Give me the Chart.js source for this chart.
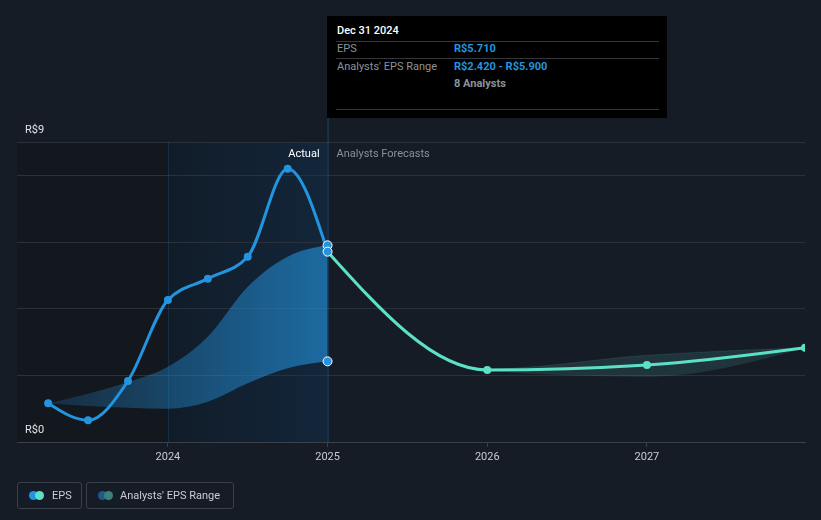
<!DOCTYPE html>
<html>
<head>
<meta charset="utf-8">
<script src="https://cdn.jsdelivr.net/npm/chart.js@4.4.1/dist/chart.umd.min.js"></script>
<style>
  html, body { margin:0; padding:0; background:#161c26; }
  body { width:821px; height:520px; position:relative; overflow:hidden; font-family: Roboto, "Noto Sans", sans-serif; }
  canvas { position:absolute; left:0; top:0; }
  .tip { position:absolute; left:327px; top:16px; width:340px; height:102px; background:#000; font-size:11px; }
  .tip .title { position:absolute; left:10px; top:8px; color:#fff; font-weight:500; }
  .tip .sep { position:absolute; left:9px; right:8px; height:1px; background:#33373d; }
  .tip .lab { position:absolute; left:10px; color:#8d9299; }
  .tip .val { position:absolute; left:127px; color:#2394df; font-weight:700; }
  .tip .an { position:absolute; left:127px; color:#8d9299; font-weight:700; }
  .legend { position:absolute; top:482px; height:27px; border:1px solid #3a3f48; border-radius:3px; box-sizing:border-box; color:#c9ccd1; font-size:11px; line-height:25px; }
  .dot { position:absolute; top:8px; width:9px; height:9px; border-radius:50%; }
</style>
</head>
<body>
<canvas id="c" width="821" height="520"></canvas>
<div class="tip">
  <div class="title">Dec 31 2024</div>
  <div class="sep" style="top:25px"></div>
  <div class="lab" style="top:26px">EPS</div>
  <div class="val" style="top:26px">R$5.710</div>
  <div class="sep" style="top:42px"></div>
  <div class="lab" style="top:44px">Analysts' EPS Range</div>
  <div class="val" style="top:44px">R$2.420 - R$5.900</div>
  <div class="an" style="top:61px">8 Analysts</div>
  <div class="sep" style="top:93px"></div>
</div>
<div class="legend" style="left:17px;width:65px;">
  <span class="dot" style="left:11px;background:#2394df"></span>
  <span class="dot" style="left:17px;background:#5de0c8"></span>
  <span style="position:absolute;left:34px;">EPS</span>
</div>
<div class="legend" style="left:86px;width:148px;">
  <span class="dot" style="left:11px;background:#1d5a8a"></span>
  <span class="dot" style="left:17px;background:#3b807c"></span>
  <span style="position:absolute;left:33px;">Analysts' EPS Range</span>
</div>
<script>
// ---- data (x = year as decimal) ----
const actualX   = [2023.25, 2023.5, 2023.75, 2024.0, 2024.25, 2024.5, 2024.75, 2025.0];
const actualEPS = [1.16, 0.65, 1.83, 4.26, 4.90, 5.56, 8.20, 5.71];

const pastRangeX     = [2023.25, 2023.5, 2023.75, 2024.0, 2024.25, 2024.5, 2024.75, 2025.0];
const pastRangeHigh  = [1.16, 1.45, 1.8, 2.26, 3.16, 4.66, 5.56, 5.90];
const pastRangeLow   = [1.16, 1.08, 1.03, 1.00, 1.21, 1.76, 2.21, 2.42];

const forecastX    = [2025.0, 2026.0, 2027.0, 2027.99];
const forecastEPS  = [5.71, 2.16, 2.31, 2.83];
const forecastHigh = [5.71, 2.19, 2.60, 2.83];
const forecastLow  = [5.71, 2.13, 1.96, 2.83];

const yTicks = [0, 2, 4, 6, 8, 9];
const yLabels = {0: 'R$0', 9: 'R$9'};
const xTicks = [2024, 2025, 2026, 2027];

const pts = (xs, ys) => xs.map((x, i) => ({x, y: ys[i]}));

const BLUE = '#2394df', TEAL = '#5de0c8';

// d3-style monotoneX control points applied to the library's own point elements
function sgn(v) { return v < 0 ? -1 : 1; }
function slope3(p0, p1, p2) {
  const h0 = p1.x - p0.x, h1 = p2.x - p1.x;
  const s0 = (p1.y - p0.y) / h0, s1 = (p2.y - p1.y) / h1;
  const p = (s0 * h1 + s1 * h0) / (h0 + h1);
  return (sgn(s0) + sgn(s1)) * Math.min(Math.abs(s0), Math.abs(s1), 0.5 * Math.abs(p)) || 0;
}
function slope2(p0, p1, t) {
  const h = p1.x - p0.x;
  return h ? (3 * (p1.y - p0.y) / h - t) / 2 : t;
}
const monoPlugin = {
  id: 'mono',
  afterDatasetsUpdate(chart) {
    chart.getSortedVisibleDatasetMetas().forEach(meta => {
      const line = meta.dataset;
      if (!line || meta._dataset.showLine === false) return;
      const P = meta.data;
      const n = P.length;
      if (n < 3) return;
      const m = new Array(n);
      for (let i = 1; i < n - 1; i++) m[i] = slope3(P[i - 1], P[i], P[i + 1]);
      m[0] = slope2(P[0], P[1], m[1]);
      m[n - 1] = slope2(P[n - 2], P[n - 1], m[n - 2]);
      for (let i = 0; i < n; i++) {
        const pt = P[i];
        if (i > 0) { const d = (pt.x - P[i - 1].x) / 3; pt.cp1x = pt.x - d; pt.cp1y = pt.y - d * m[i]; }
        else { pt.cp1x = pt.x; pt.cp1y = pt.y; }
        if (i < n - 1) { const d = (P[i + 1].x - pt.x) / 3; pt.cp2x = pt.x + d; pt.cp2y = pt.y + d * m[i]; }
        else { pt.cp2x = pt.x; pt.cp2y = pt.y; }
      }
      line._pointsUpdated = true;
    });
  }
};

const bgPlugin = {
  id: 'bg',
  beforeDraw(chart) {
    const {ctx, chartArea: a, scales: {x}} = chart;
    const x24 = x.getPixelForValue(2024), x25 = x.getPixelForValue(2025);
    ctx.save();
    ctx.fillStyle = '#13171e';
    ctx.fillRect(a.left, a.top, x24 - a.left, a.bottom - a.top);
    const g = ctx.createLinearGradient(x24, 0, x25, 0);
    g.addColorStop(0, '#111c29');
    g.addColorStop(1, '#13263a');
    ctx.fillStyle = g;
    ctx.fillRect(x24, a.top, x25 - x24, a.bottom - a.top);
    ctx.restore();
  },
  beforeDatasetsDraw(chart) {
    const {ctx, chartArea: a, scales: {x}} = chart;
    const x24 = x.getPixelForValue(2024), x25 = x.getPixelForValue(2025);
    ctx.save();
    ctx.lineWidth = 1;
    ctx.strokeStyle = 'rgba(35,148,223,0.18)';
    ctx.beginPath(); ctx.moveTo(x24 + 0.5, a.top); ctx.lineTo(x24 + 0.5, a.bottom); ctx.stroke();
    ctx.strokeStyle = 'rgba(35,148,223,0.35)';
    ctx.beginPath(); ctx.moveTo(x25 + 0.5, 118); ctx.lineTo(x25 + 0.5, a.bottom); ctx.stroke();
    ctx.restore();
  },
  afterDatasetsDraw(chart) {
    const {ctx, scales: {x}} = chart;
    const x25 = x.getPixelForValue(2025);
    ctx.save();
    ctx.font = '11px Roboto, "Noto Sans", sans-serif';
    ctx.textBaseline = 'middle';
    ctx.textAlign = 'right';
    ctx.fillStyle = '#ffffff';
    ctx.fillText('Actual', x25 - 8, 154);
    ctx.textAlign = 'left';
    ctx.fillStyle = '#8a9099';
    ctx.fillText('Analysts Forecasts', x25 + 9, 154);
    ctx.restore();
  }
};

const pastGrad = (ctx) => {
  const c = ctx.chart;
  if (!c.chartArea) return 'rgba(35,148,223,0.3)';
  const x = c.scales.x;
  const g = c.ctx.createLinearGradient(x.getPixelForValue(2023.25), 0, x.getPixelForValue(2025), 0);
  g.addColorStop(0, 'rgba(35,148,223,0.18)');
  g.addColorStop(1, 'rgba(35,148,223,0.62)');
  return g;
};

new Chart(document.getElementById('c'), {
  type: 'line',
  data: {
    datasets: [
      { data: pts(pastRangeX, pastRangeHigh), borderWidth: 0, pointRadius: 0, fill: '+1',
        backgroundColor: pastGrad, cubicInterpolationMode: 'monotone', order: 5 },
      { data: pts(pastRangeX, pastRangeLow), borderWidth: 0, pointRadius: 0, fill: false,
        cubicInterpolationMode: 'monotone', order: 5 },
      { data: pts(forecastX, forecastHigh), borderWidth: 1, borderColor: 'rgba(93,224,200,0.12)', pointRadius: 0, fill: '+1',
        backgroundColor: 'rgba(93,224,200,0.13)', cubicInterpolationMode: 'monotone', order: 5 },
      { data: pts(forecastX, forecastLow), borderWidth: 0, pointRadius: 0, fill: false,
        cubicInterpolationMode: 'monotone', order: 5 },
      { data: pts(forecastX, forecastEPS), borderColor: TEAL, backgroundColor: TEAL, borderWidth: 3,
        pointRadius: [0, 4, 4, 4], pointBorderWidth: 0, fill: false, cubicInterpolationMode: 'monotone', order: 2 },
      { data: pts(actualX, actualEPS), borderColor: BLUE, backgroundColor: BLUE, borderWidth: 3,
        pointRadius: [4, 4, 4, 4, 4, 4, 4, 0], pointBorderWidth: 0, fill: false, cubicInterpolationMode: 'monotone', order: 1 },
      { data: [{x: 2025, y: pastRangeHigh[7]}, {x: 2025, y: actualEPS[7]}, {x: 2025, y: pastRangeLow[7]}],
        showLine: false, pointRadius: 4.5, pointBackgroundColor: BLUE, pointBorderColor: '#ffffff', pointBorderWidth: 1, order: 0 }
    ]
  },
  options: {
    responsive: false,
    animation: false,
    devicePixelRatio: 1,
    layout: { padding: { top: 142, right: 16, bottom: 48, left: 0 } },
    plugins: { legend: { display: false }, tooltip: { enabled: false } },
    scales: {
      x: {
        type: 'linear', min: 2023.055, max: 2027.99,
        afterBuildTicks: s => { s.ticks = xTicks.map(v => ({value: v})); },
        afterFit: s => { s.height = 30; },
        ticks: { autoSkip: false, color: '#c9ccd1', font: { size: 11, family: 'Roboto' }, padding: 4, callback: v => String(v) },
        grid: { drawOnChartArea: false, drawTicks: true, tickLength: 5, color: '#3a404a' },
        border: { display: true, color: '#3a404a' }
      },
      y: {
        min: 0, max: 9,
        afterBuildTicks: s => { s.ticks = yTicks.map(v => ({value: v})); },
        afterFit: s => { s.width = 17; },
        ticks: { autoSkip: false, mirror: true, padding: 8, labelOffset: -12, color: '#e0e2e5', font: { size: 11, family: 'Roboto' },
                 callback: v => yLabels[v] || '' },
        grid: { color: '#2b313a', drawTicks: false },
        border: { display: false }
      }
    }
  },
  plugins: [monoPlugin, bgPlugin]
});
</script>
</body>
</html>
